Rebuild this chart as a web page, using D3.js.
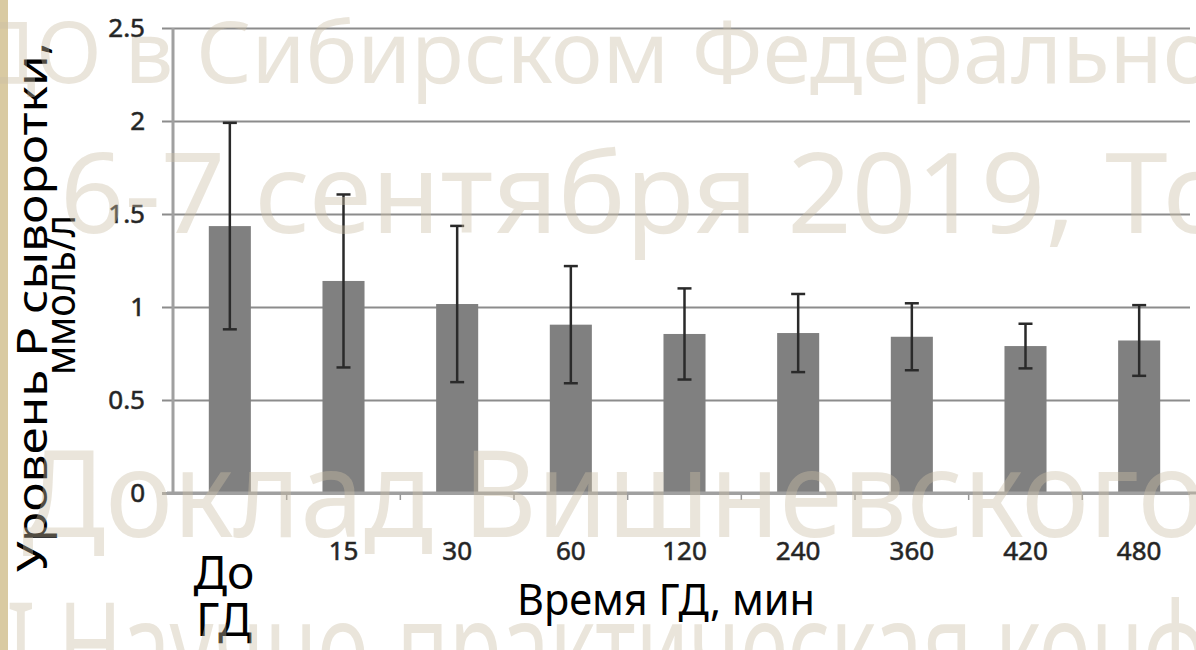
<!DOCTYPE html>
<html><head><meta charset="utf-8">
<script src="https://cdn.jsdelivr.net/npm/d3@7"></script>
<style>html,body{margin:0;padding:0;background:#fff;overflow:hidden}</style>
</head><body><svg id="c" width="1196" height="650"></svg>
<script>
// ---- data ----
const categories = ["До ГД","15","30","60","120","240","360","420","480"];
const means = [1.435,1.14,1.016,0.905,0.855,0.86,0.84,0.79,0.82];
const sds   = [0.555,0.465,0.42,0.315,0.245,0.21,0.18,0.12,0.19];
const yTicks = [0,0.5,1,1.5,2,2.5];
const yTitle = ["Уровень Р сыворотки,","ммоль/л"];
const xTitle = "Время ГД, мин";
const watermark = ["ДО в Сибирском Федеральном округе","6-7 сентября 2019, Томск","Доклад Вишневского","I Научно-практическая конференция"];

// ---- layout ----
const svg = d3.select("#c");
const FONT = "'Noto Sans', sans-serif";
svg.append("rect").attr("width",1196).attr("height",650).attr("fill","#fff");
svg.append("rect").attr("x",0).attr("y",0).attr("width",8).attr("height",650).attr("fill","#d9caa2");

const y = d3.scaleLinear().domain([0,2.5]).range([493,28]);
const x = d3.scaleBand().domain(categories).range([173,1196]).paddingInner(0.63).paddingOuter(0.315);
const step = x.step();

// grid + y labels
const gy = svg.append("g").attr("transform","translate(162,0)")
  .call(d3.axisLeft(y).tickValues(yTicks).tickSize(-(1190-162)).tickPadding(17).tickFormat(d3.format("")));
gy.select(".domain").remove();
gy.selectAll(".tick line").attr("stroke",d=>d===0?"#a0a0a0":"#8c8c8c").attr("stroke-width",d=>d===0?3:2);
gy.selectAll(".tick text").attr("font-family",FONT).attr("font-size",26).attr("fill","#222")
  .attr("stroke","#333").attr("stroke-width",0.6);

// y axis line
svg.append("line").attr("x1",173).attr("x2",173).attr("y1",y(2.5)).attr("y2",y(0))
  .attr("stroke","#a0a0a0").attr("stroke-width",3);

// x tick marks between categories
svg.append("g").selectAll("line").data(categories.slice(1)).join("line")
  .attr("x1",d=>x(d)-step*0.315).attr("x2",d=>x(d)-step*0.315)
  .attr("y1",y(0)).attr("y2",y(0)+7).attr("stroke","#999").attr("stroke-width",1.5);

// bars
svg.append("g").selectAll("rect").data(categories).join("rect")
  .attr("x",d=>x(d)).attr("width",x.bandwidth())
  .attr("y",(d,i)=>y(means[i])).attr("height",(d,i)=>y(0)-y(means[i]))
  .attr("fill","#808080");

// error bars
const eb = svg.append("g").attr("stroke","#2a2a2a").attr("stroke-width",2.5);
categories.forEach((c,i)=>{
  const cx = x(c)+x.bandwidth()/2;
  eb.append("line").attr("x1",cx).attr("x2",cx).attr("y1",y(means[i]+sds[i])).attr("y2",y(means[i]-sds[i]));
  [means[i]+sds[i], means[i]-sds[i]].forEach(v=>{
    eb.append("line").attr("x1",cx-7).attr("x2",cx+7).attr("y1",y(v)).attr("y2",y(v));
  });
});

// x axis labels
const gx = svg.append("g").attr("transform",`translate(0,${y(0)})`)
  .call(d3.axisBottom(x).tickSize(0).tickPadding(49).tickFormat((d,i)=>i===0?"":d));
gx.select(".domain").remove();
gx.selectAll(".tick text").attr("font-family",FONT).attr("font-size",26).attr("fill","#222")
  .attr("stroke","#333").attr("stroke-width",0.6);
// x axis baseline
svg.append("line").attr("x1",167).attr("x2",1196).attr("y1",y(0)).attr("y2",y(0))
  .attr("stroke","#a0a0a0").attr("stroke-width",3);

// first category as large two-line label
const firstLines = categories[0].split(" ");
svg.append("g").selectAll("text").data(firstLines).join("text")
  .attr("x",x(categories[0])+x.bandwidth()/2-6).attr("y",(d,i)=>589+i*47)
  .attr("text-anchor","middle").attr("font-family",FONT).attr("font-size",46).attr("fill","#000").text(d=>d);

// x title
svg.append("text").attr("x",666).attr("y",615).attr("text-anchor","middle")
  .attr("font-family",FONT).attr("font-size",44).attr("fill","#000")
  .attr("textLength",298).attr("lengthAdjust","spacingAndGlyphs").text(xTitle);

// y title
svg.append("text").attr("transform","translate(47,307) rotate(-90)").attr("text-anchor","middle")
  .attr("font-family",FONT).attr("font-size",42).attr("fill","#000")
  .attr("textLength",530).attr("lengthAdjust","spacingAndGlyphs").text(yTitle[0]);
svg.append("text").attr("transform","translate(75,295) rotate(-90)").attr("text-anchor","middle")
  .attr("font-family",FONT).attr("font-size",41).attr("fill","#000")
  .attr("textLength",160).attr("lengthAdjust","spacingAndGlyphs").text(yTitle[1]);

// watermark overlay
const wm = svg.append("g").attr("opacity",0.4).attr("fill","#cbbfa6").attr("font-family",FONT);
const wmLayout = [
  {size:86, base:83, i1:5, x1:196, i2:24, x2:1163},
  {size:112, base:233, i1:0, x1:60, i2:19, x2:1105},
  {size:120, base:537, i1:0, x1:22, i2:17, x2:1138},
  {size:120, base:689, i1:2, x1:58, i2:22, x2:995}
];
watermark.forEach((t,k)=>{
  const L = wmLayout[k];
  const el = wm.append("text").attr("font-size",L.size).text(t);
  const n = el.node();
  const s1 = L.i1>0 ? n.getSubStringLength(0,L.i1) : 0;
  const s2 = n.getSubStringLength(0,L.i2);
  const sc = (L.x2-L.x1)/(s2-s1);
  el.attr("transform",`translate(${L.x1-sc*s1},${L.base}) scale(${sc},1)`);
});
</script></body></html>
